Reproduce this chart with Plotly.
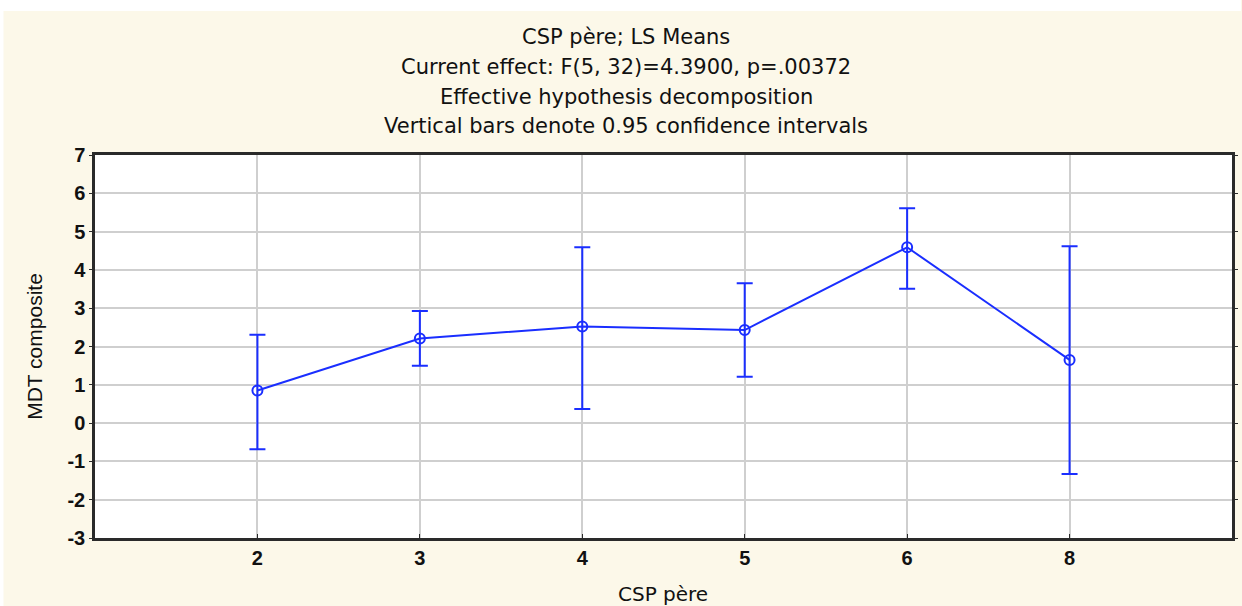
import plotly.graph_objects as go

categories = ["2", "3", "4", "5", "6", "8"]
means = [0.85, 2.21, 2.52, 2.43, 4.59, 1.65]
upper = [2.31, 2.93, 4.59, 3.65, 5.61, 4.62]
lower = [-0.68, 1.50, 0.37, 1.21, 3.51, -1.33]
y_ticks = [-3, -2, -1, 0, 1, 2, 3, 4, 5, 6, 7]
title_lines = [
    "CSP père; LS Means",
    "Current effect: F(5, 32)=4.3900, p=.00372",
    "Effective hypothesis decomposition",
    "Vertical bars denote 0.95 confidence intervals",
]

BLUE = "#1a2eff"
CREAM = "#fcf8e9"
FONT = "DejaVu Sans, Liberation Sans, Arial, sans-serif"
FONT_ARIAL = "Liberation Sans, Arial, sans-serif"

err_plus = [u - m for u, m in zip(upper, means)]
err_minus = [m - l for m, l in zip(means, lower)]

fig = go.Figure()
fig.add_trace(go.Scatter(
    x=categories, y=means, mode="lines+markers",
    line=dict(color=BLUE, width=2),
    marker=dict(symbol="circle-open", size=10, color=BLUE, line=dict(width=2, color=BLUE)),
    error_y=dict(type="data", symmetric=False, array=err_plus, arrayminus=err_minus,
                 color=BLUE, thickness=2, width=8),
    showlegend=False,
))

# plot geometry (pixels) used to place annotations in paper coordinates
W, H = 1242, 606
L, R, T, B = 95, 4, 155, 68
pw, ph = W - L - R, H - T - B

def py(ypix):
    return (H - B - ypix) / ph

def px(xpix):
    return (xpix - L) / pw

title_y = [37, 67, 97, 126]
annotations = []
for txt, yp in zip(title_lines, title_y):
    annotations.append(dict(text=txt, x=px(629), y=py(yp), xref="paper", yref="paper",
                            showarrow=False, xanchor="center", yanchor="middle",
                            font=dict(family=FONT, size=21, color="#111")))
# x axis title (partly at bottom edge as in the reference)
annotations.append(dict(text="CSP père", x=px(666), y=py(594), xref="paper", yref="paper",
                        showarrow=False, xanchor="center", yanchor="middle",
                        font=dict(family=FONT, size=20, color="#111")))

shapes = [
    dict(type="rect", xref="paper", yref="paper", x0=px(-5), x1=px(W + 5), y0=py(11), y1=py(-5),
         fillcolor="white", line=dict(width=0), layer="below"),
    dict(type="rect", xref="paper", yref="paper", x0=px(-5), x1=px(3), y0=py(H + 5), y1=py(-5),
         fillcolor="white", line=dict(width=0), layer="below"),
]

fig.update_layout(
    width=W, height=H,
    margin=dict(l=L, r=R, t=T, b=B),
    paper_bgcolor=CREAM, plot_bgcolor="white",
    font=dict(family=FONT, color="#111"),
    annotations=annotations, shapes=shapes,
    xaxis=dict(
        type="category", range=[-1, 6],
        showgrid=True, gridcolor="#cfcfcf", gridwidth=2,
        showline=True, linecolor="#2a2a2a", linewidth=2.5, mirror=True,
        ticks="inside", ticklen=4, tickcolor="#2a2a2a",
        tickfont=dict(family=FONT_ARIAL, size=20, color="#111", weight="bold"),
    ),
    yaxis=dict(
        range=[-3, 7], tickvals=y_ticks, ticktext=[str(v) for v in y_ticks],
        showgrid=True, gridcolor="#cfcfcf", gridwidth=2, zeroline=False,
        showline=True, linecolor="#2a2a2a", linewidth=2.5, mirror="ticks",
        ticks="outside", ticklen=3, tickcolor="#2a2a2a",
        tickfont=dict(family=FONT_ARIAL, size=20, color="#111", weight="bold"),
        title=dict(text="MDT composite", font=dict(family=FONT_ARIAL, size=21, color="#111"),
                   standoff=20),
    ),
)

fig.write_html("out.html", config={"displayModeBar": False},
               post_script="document.body.style.margin='0';")
